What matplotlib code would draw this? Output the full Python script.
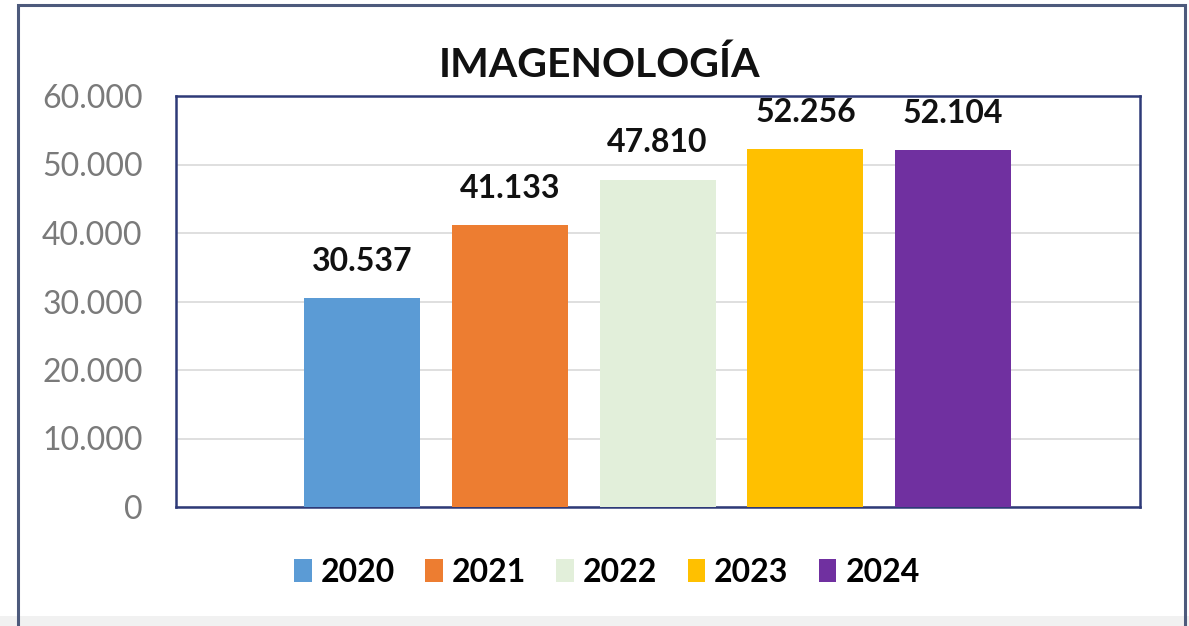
import matplotlib
matplotlib.use("Agg")
import matplotlib.pyplot as plt
from matplotlib.patches import Rectangle, Patch
from matplotlib.ticker import FuncFormatter

years = ["2020", "2021", "2022", "2023", "2024"]
values = [30537, 41133, 47810, 52256, 52104]
labels = ["30.537", "41.133", "47.810", "52.256", "52.104"]
colors = ["#5B9BD5", "#ED7D31", "#E2EFDA", "#FFC000", "#7030A0"]
yticks = [0, 10000, 20000, 30000, 40000, 50000, 60000]
title = "IMAGENOLOGÍA"

plt.rcParams['font.family'] = ['Lato', 'DejaVu Sans']

W, H = 1189, 626
fig = plt.figure(figsize=(W/100, H/100), dpi=100)
fig.patch.set_facecolor("white")

# bottom light band
fig.patches.append(Rectangle((0, 0), 1, 10/H, transform=fig.transFigure,
                             facecolor="#f1f1f1", edgecolor="none", zorder=0))
# outer border
fig.patches.append(Rectangle((18/W, -0.05), (1185-18)/W, (H-5)/H + 0.05,
                             transform=fig.transFigure, facecolor="none",
                             edgecolor="#4d5a7c", linewidth=2.2, zorder=1))

left, right, top, bottom = 176, 1140, 96, 507
ax = fig.add_axes([left/W, 1-bottom/H, (right-left)/W, (bottom-top)/H])
ax.set_facecolor("white")

x = list(range(len(years)))
bars = ax.bar(x, values, width=0.785, color=colors, zorder=3)
ax.set_xlim(-1.26, 5.265)
ax.set_ylim(0, 60000)
ax.set_yticks(yticks)
ax.yaxis.set_major_formatter(FuncFormatter(lambda v, p: f"{int(v):,}".replace(",", ".")))
ax.tick_params(axis='y', length=0, pad=24, labelsize=23, labelcolor="#7a7a7a")
ax.set_xticks([])
ax.grid(axis='y', color="#d9d9d9", linewidth=1.2, zorder=0)
for s in ax.spines.values():
    s.set_color("#2e3a78")
    s.set_linewidth(1.8)

for xi, v, lab in zip(x, values, labels):
    ax.annotate(lab, (xi, v), xytext=(0, 16), textcoords="offset points",
                ha="center", va="bottom", fontsize=23, fontweight="bold", color="#111111")

fig.text(600/W, 1-65/H, title, ha="center", va="center", fontsize=29.5,
         fontweight="bold", color="#111111")

handles = [Patch(facecolor=c, edgecolor="none") for c in colors]
fig.legend(handles, years, loc="center", bbox_to_anchor=(607/W, 1-572/H), ncol=5,
           frameon=False, prop={'size': 23, 'weight': 'bold'},
           handlelength=0.55, handleheight=0.75, handletextpad=0.28, columnspacing=0.95)

fig.savefig("out.png", dpi=100)
